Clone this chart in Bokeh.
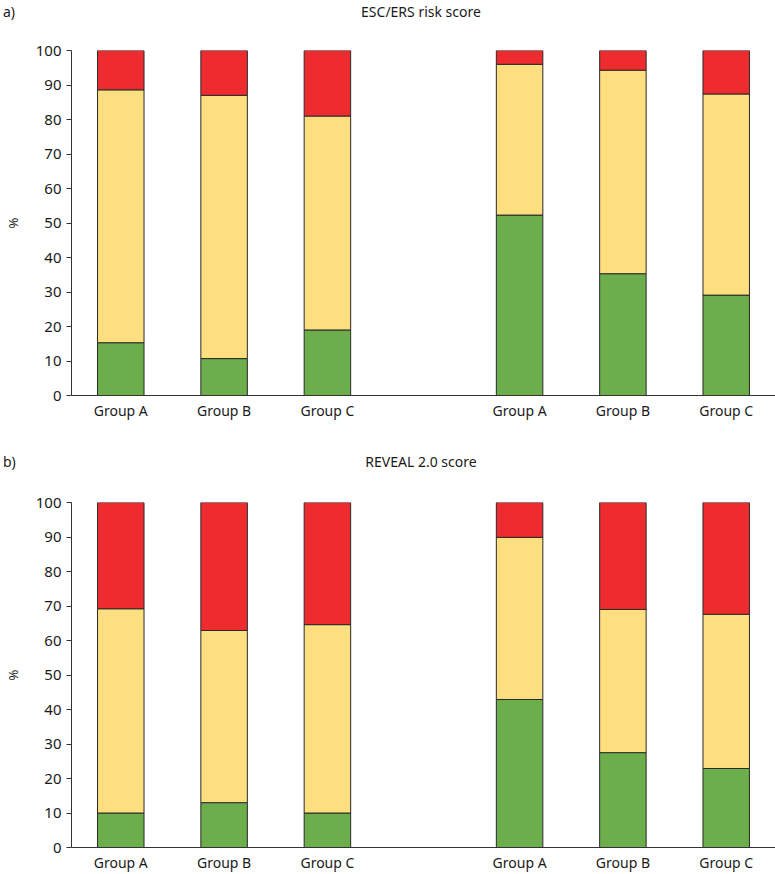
from bokeh.plotting import figure
from bokeh.models import FactorRange, FixedTicker, ColumnDataSource, Div
from bokeh.layouts import column
from bokeh.embed import file_html
from bokeh.resources import INLINE

# ---- data ----
cohorts = ["c1", "c2"]
groups = ["Group A", "Group B", "Group C"]
levels = ["low", "intermediate", "high"]
colors = ["#6CAD4C", "#FDDF80", "#EE2C30"]

# ESC/ERS risk score (% of patients)
esc_low = [15.3, 10.7, 19.0, 52.3, 35.3, 29.1]
esc_int = [73.3, 76.3, 62.0, 43.7, 59.0, 58.3]
esc_high = [11.4, 13.0, 19.0, 4.0, 5.7, 12.6]

# REVEAL 2.0 score (% of patients)
rev_low = [10.0, 13.0, 10.0, 42.9, 27.5, 22.9]
rev_int = [59.2, 49.9, 54.6, 47.0, 41.5, 44.7]
rev_high = [30.8, 37.1, 35.4, 10.1, 31.0, 32.4]

y_ticks = [0, 10, 20, 30, 40, 50, 60, 70, 80, 90, 100]

panel_tags = ["a)", "b)"]
panel_titles = ["ESC/ERS risk score", "REVEAL 2.0 score"]

FONT = "Noto Sans"
TXT = "#1a1a1a"
factors = [(c, g) for c in cohorts for g in groups]
W = 775


def make_header(tag, title, height=40):
    html = (
        f'<div style="position:relative;width:{W}px;height:{height}px;'
        f'font-family:\'{FONT}\';font-size:14px;line-height:18px;color:{TXT};">'
        f'<span style="position:absolute;left:3px;top:3px;">{tag}</span>'
        f'<span style="position:absolute;left:271px;width:300px;top:3px;'
        f'text-align:center;">{title}</span></div>'
    )
    return Div(text=html, width=W, height=height, margin=(0, 0, 0, 0))


def make_panel(low, inter, high, height, top, bottom):
    src = ColumnDataSource(dict(x=factors, low=low, intermediate=inter, high=high))
    p = figure(x_range=FactorRange(*factors, factor_padding=0.0, group_padding=0.86,
                                   range_padding=-0.0067),
               y_range=(0, 100), width=W, height=height,
               output_backend="svg", toolbar_location=None,
               min_border_left=67, min_border_right=0, min_border_top=top,
               min_border_bottom=bottom)
    p.vbar_stack(levels, x="x", width=0.45, color=colors, source=src,
                 line_color="#2a2a2a", line_width=1)
    p.grid.visible = False
    p.outline_line_color = None
    p.background_fill_color = "white"

    ya = p.yaxis[0]
    ya.ticker = FixedTicker(ticks=y_ticks)
    ya.minor_tick_line_color = None
    ya.major_tick_in = 0
    ya.major_tick_out = 5
    ya.axis_line_color = "#333333"
    ya.major_tick_line_color = "#333333"
    ya.major_label_text_font = FONT
    ya.major_label_text_font_size = "15px"
    ya.major_label_text_color = TXT
    ya.major_label_standoff = 5
    ya.axis_label = "%"
    ya.axis_label_text_font = FONT
    ya.axis_label_text_font_size = "13px"
    ya.axis_label_text_font_style = "normal"
    ya.axis_label_text_color = TXT
    ya.axis_label_standoff = 11

    xa = p.xaxis[0]
    xa.major_tick_line_color = None
    xa.minor_tick_line_color = None
    xa.major_tick_out = 0
    xa.axis_line_color = "#333333"
    xa.major_label_text_font = FONT
    xa.major_label_text_font_size = "14px"
    xa.major_label_text_color = TXT
    xa.major_label_standoff = 5
    xa.group_text_font_size = "0px"
    xa.group_text_color = None
    xa.separator_line_color = None
    return p


h1 = make_header(panel_tags[0], panel_titles[0], height=40)
p1 = make_panel(esc_low, esc_int, esc_high, height=410, top=10, bottom=55)
h2 = make_header(panel_tags[1], panel_titles[1], height=40)
p2 = make_panel(rev_low, rev_int, rev_high, height=384, top=12, bottom=27)
layout = column(h1, p1, h2, p2, spacing=0)

open("out.html", "w").write(file_html(layout, INLINE))
